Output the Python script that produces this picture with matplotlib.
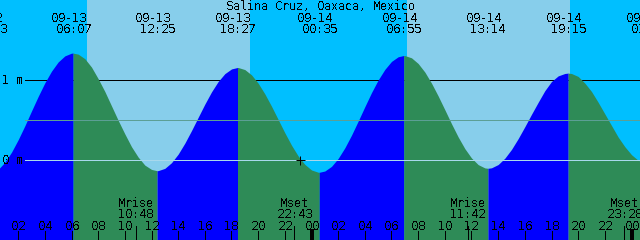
"""Tide chart for Salina Cruz, Oaxaca, Mexico (09-13 .. 09-14)."""

import numpy as np
import matplotlib; matplotlib.use("Agg")
import matplotlib.pyplot as plt

plt.rcParams["text.antialiased"] = False
plt.rcParams["text.hinting"] = "native"
plt.rcParams["text.hinting_factor"] = 1

TITLE = "Salina Cruz, Oaxaca, Mexico"

# half-hour samples since 09-13 00:00 -> tide height (m)
HOURS = [i * 0.5 for i in range(99)]
HEIGHT = [-0.173, -0.125, -0.035, 0.091, 0.247, 0.421, 0.606, 0.788, 0.958, 1.104,
          1.219, 1.295, 1.329, 1.317, 1.260, 1.155, 1.010, 0.850, 0.670, 0.490,
          0.320, 0.160, 0.030, -0.070, -0.124, -0.139, -0.111, -0.040, 0.067, 0.204,
          0.361, 0.527, 0.692, 0.845, 0.975, 1.073, 1.132, 1.150, 1.124, 1.058,
          0.954, 0.820, 0.666, 0.500, 0.334, 0.179, 0.044, -0.061, -0.131, -0.159,
          -0.144, -0.086, 0.013, 0.146, 0.304, 0.480, 0.660, 0.836, 0.994, 1.126,
          1.226, 1.284, 1.299, 1.271, 1.200, 1.093, 0.954, 0.794, 0.622, 0.447,
          0.282, 0.136, 0.019, -0.064, -0.105, -0.104, -0.063, 0.016, 0.126, 0.261,
          0.410, 0.565, 0.715, 0.860, 0.975, 1.045, 1.075, 1.075, 1.038, 0.955,
          0.850, 0.715, 0.570, 0.425, 0.280, 0.160, 0.060, -0.010, -0.040]

# high / low tides
EXT_HOURS = [-0.15, 6.117, 12.417, 18.45, 24.583, 30.917, 37.233, 43.25, 49.27]
EXT_HEIGHT = [-0.18, 1.33, -0.14, 1.15, -0.16, 1.30, -0.11, 1.08, -0.05]
EXT_DATE = ["09-12", "09-13", "09-13", "09-13", "09-14", "09-14", "09-14", "09-14", "09-15"]
EXT_TIME = ["23:43", "06:07", "12:25", "18:27", "00:35", "06:55", "13:14", "19:15", "01:16"]

SUNRISE = [7.16, 31.19]
SUNSET = [19.39, 43.39]

MOON_HOURS = [10.8, 22.717, 35.7, 47.467]
MOON_KIND = ["Mrise", "Mset", "Mrise", "Mset"]
MOON_TIME = ["10:48", "22:43", "11:42", "23:28"]

TICK_HOURS = list(range(2, 49, 2))
MARK_LEVELS = [1.0, 0.0]; MARK_LABELS = ["1 m", "0 m"]
MID_LEVEL = 0.49
NOW_HOUR = 23.17; NOW_HEIGHT = 0.0

W, H = 640, 240
PPH = W / 48.0          # pixels per hour
PX = 72 / 100           # one pixel in points
XMIN = 0.6375; XMAX = XMIN + 48
YMIN = (159.5 - H) / 80; YMAX = 159.5 / 80

NIGHT = "#00BFFF"; DAY = "#87CEEB"; FLOOD = "#0000FF"; EBB = "#2E8B57"
MIDC = "#5c9f95"; DATUMC = "#a8d8ec"
FONT = dict(family="DejaVu Sans Mono", size=8.4, color="black")


def fx(xpx): return xpx / W
def fy(ypx): return 1 - ypx / H


def main():
    fig = plt.figure(figsize=(W / 100, H / 100), dpi=100, facecolor=NIGHT)
    ax = fig.add_axes([0, 0, 1, 1]); ax.axis("off")
    ax.set_xlim(XMIN, XMAX); ax.set_ylim(YMIN, YMAX)

    for a, b in zip(SUNRISE, SUNSET):
        ax.axvspan(a, b, color=DAY, lw=0, zorder=0)

    x0 = XMIN + 25 / PPH
    ax.plot([x0, XMAX], [MARK_LEVELS[0]] * 2, color="black", lw=PX, aa=False, zorder=1)

    # merge the samples with the extremes
    t = np.array(HOURS + EXT_HOURS, float); h = np.array(HEIGHT + EXT_HEIGHT, float)
    o = np.argsort(t); t, h = t[o], h[o]
    for i in range(len(EXT_HOURS) - 1):
        a, b = EXT_HOURS[i], EXT_HOURS[i + 1]
        m = (t >= a) & (t <= b)
        c = FLOOD if EXT_HEIGHT[i + 1] > EXT_HEIGHT[i] else EBB
        ax.fill_between(t[m], h[m], YMIN - 0.1, color=c, lw=0, aa=False, zorder=2)

    ax.plot([x0, XMAX], [MID_LEVEL] * 2, color=MIDC, lw=PX, aa=False, zorder=3)
    ax.plot([x0, XMAX], [MARK_LEVELS[1]] * 2, color=DATUMC, lw=PX, aa=False, zorder=3)
    for lv, lb in zip(MARK_LEVELS, MARK_LABELS):
        ypx = 159.5 - lv * 80 + 4.3
        ax.text(fx(1.5), fy(ypx), lb, transform=ax.transAxes, ha="left", va="baseline",
                zorder=5, **FONT)

    ax.plot(NOW_HOUR, NOW_HEIGHT, marker="+", ms=9 * PX, mew=PX, color="black", zorder=5)

    # top labels
    ax.text(fx(320), fy(10), TITLE, transform=ax.transAxes, ha="center", va="baseline", **FONT)
    tr = ax.get_xaxis_transform()
    for hr, d, s in zip(EXT_HOURS, EXT_DATE, EXT_TIME):
        ax.text(hr - 4.5 / PPH, fy(22), d, transform=tr, ha="center", va="baseline", **FONT)
        ax.text(hr, fy(33.3), s, transform=tr, ha="center", va="baseline", **FONT)

    # bottom time axis
    for hr in TICK_HOURS:
        ax.text(hr, fy(229.5), "%02d" % (hr % 24), transform=tr, ha="center",
                va="baseline", zorder=5, **FONT)
        lw = 2.5 * PX if hr % 24 == 0 else PX
        ax.plot([hr, hr], [0, 9 / H], transform=tr, color="black", lw=lw, aa=False, zorder=4)
    for hr, k, s in zip(MOON_HOURS, MOON_KIND, MOON_TIME):
        ax.text(hr, fy(206.7), k, transform=tr, ha="center", va="baseline", zorder=5, **FONT)
        ax.text(hr, fy(217.8), s, transform=tr, ha="center", va="baseline", zorder=5, **FONT)
        ax.plot([hr, hr], [0, 14 / H], transform=tr, color="black", lw=PX, aa=False, zorder=4)

    fig.savefig("out.png", dpi=100, facecolor=NIGHT)
    plt.close(fig)


if __name__ == "__main__": main()
